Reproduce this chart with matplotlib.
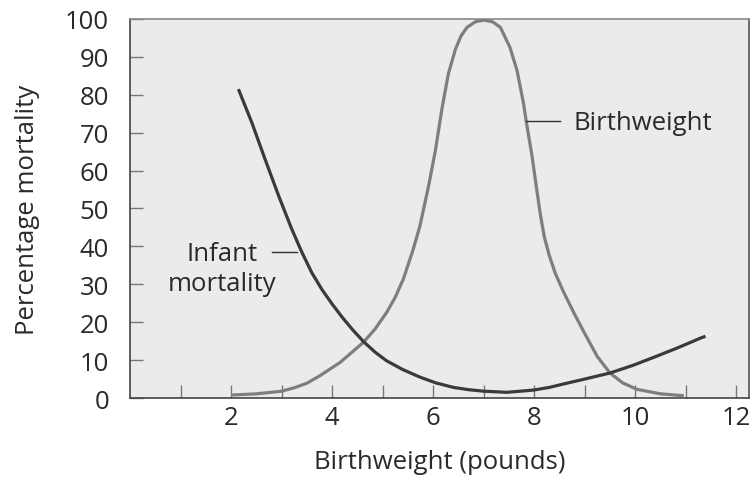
import matplotlib
matplotlib.use("Agg")
import matplotlib.pyplot as plt

# Data
infant_x = [2.145, 2.41, 2.67, 2.94, 3.20, 3.40, 3.60, 3.80, 4.00, 4.20, 4.40, 4.62, 4.85, 5.08, 5.40,
            5.74, 6.05, 6.40, 6.70, 7.00, 7.46, 7.99, 8.30, 8.58, 9.00, 9.50, 9.95, 10.36, 10.85, 11.29, 11.39]
infant_y = [81.5, 72.7, 63.1, 53.4, 44.6, 38.5, 33.0, 28.6, 24.8, 21.3, 18.1, 14.9, 12.1, 9.8, 7.5,
            5.5, 4.0, 2.8, 2.2, 1.8, 1.5, 2.1, 2.8, 3.7, 5.0, 6.6, 8.6, 10.7, 13.3, 15.8, 16.3]

bw_x = [2.02, 2.5, 3.0, 3.25, 3.5, 3.76, 4.16, 4.62, 4.85, 5.08, 5.25, 5.41, 5.60, 5.74, 5.91, 6.04, 6.17,
        6.30, 6.44, 6.55, 6.67, 6.84, 7.00, 7.17, 7.33, 7.52, 7.66, 7.79, 7.85, 7.95, 8.05, 8.12, 8.20,
        8.30, 8.42, 8.58, 8.78, 9.00, 9.25, 9.50, 9.75, 10.03, 10.5, 10.96]
bw_y = [0.8, 1.1, 1.8, 2.7, 3.9, 5.9, 9.4, 14.7, 18.2, 22.6, 26.6, 31.4, 39.0, 45.5, 56.0, 65.0, 76.0,
        85.5, 92.0, 95.5, 97.8, 99.3, 99.7, 99.3, 97.8, 92.5, 86.4, 77.6, 72.3, 64.4, 55.0, 48.5, 42.5,
        37.5, 32.8, 28.0, 22.6, 17.0, 10.9, 6.6, 4.0, 2.3, 1.1, 0.6]

x_ticks_major = [2, 4, 6, 8, 10, 12]
x_ticks_minor = [1, 3, 5, 7, 9, 11]
y_ticks = [0, 10, 20, 30, 40, 50, 60, 70, 80, 90, 100]

FONT = "Open Sans"
plt.rcParams["font.family"] = [FONT, "DejaVu Sans"]

TXT = "#2a2a2a"
FS = 18.5

fig = plt.figure(figsize=(7.55, 4.85), dpi=100)
fig.patch.set_facecolor("white")
ax = fig.add_axes([0.1722, 0.1773, 0.8198, 0.7815])
ax.set_facecolor("#ebebeb")

ax.plot(bw_x, bw_y, color="#7e7e7e", lw=2.3, solid_capstyle="butt", solid_joinstyle="round", zorder=3)
ax.plot(infant_x, infant_y, color="#3a3a3a", lw=2.3, solid_capstyle="butt", solid_joinstyle="round", zorder=4)

ax.set_xlim(0, 12.25)
ax.set_ylim(0, 100)

ax.set_xticks(x_ticks_major)
ax.set_xticks(x_ticks_minor, minor=True)
ax.set_yticks(y_ticks)
ax.tick_params(axis="both", which="both", direction="in", length=9.5, width=1.0, color="#777777",
               labelcolor=TXT, labelsize=FS)
ax.tick_params(axis="y", pad=15)
ax.tick_params(axis="x", pad=5)

for side, c in [("left", "#444444"), ("bottom", "#444444"), ("top", "#8a8a8a"), ("right", "#555555")]:
    ax.spines[side].set_color(c)
    ax.spines[side].set_linewidth(1.2)

ax.set_xlabel("Birthweight (pounds)", fontsize=FS, color=TXT, va="center")
ax.xaxis.set_label_coords(0.5, -0.168)
ax.set_ylabel("Percentage mortality", fontsize=FS, color=TXT, va="center")
ax.yaxis.set_label_coords(-0.166, 0.5)

# annotations
ax.plot([7.84, 8.51], [73.1, 73.1], color="#333333", lw=1.0, zorder=5)
ax.text(8.77, 72.6, "Birthweight", fontsize=FS, color=TXT, va="center", ha="left")
ax.plot([2.81, 3.31], [38.5, 38.5], color="#333333", lw=1.0, zorder=5)
ax.text(1.82, 38.0, "Infant", fontsize=FS, color=TXT, va="center", ha="center")
ax.text(1.82, 30.2, "mortality", fontsize=FS, color=TXT, va="center", ha="center")

fig.savefig("out.png", dpi=100)
